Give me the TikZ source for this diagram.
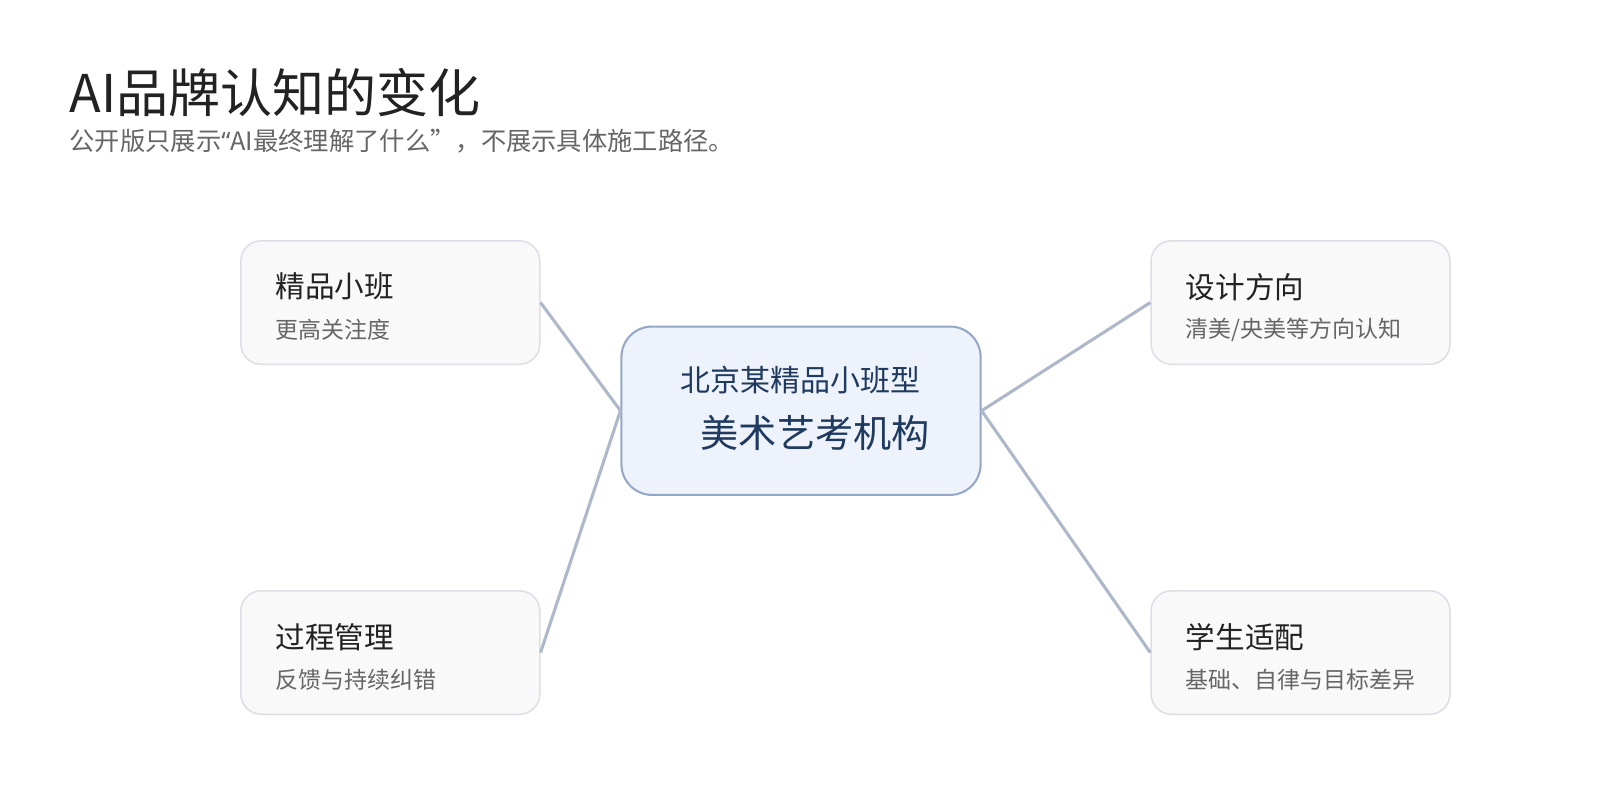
\documentclass[tikz,border=0pt]{standalone}
\usepackage{fontspec}
\setmainfont{Noto Sans CJK SC}
\newfontfamily\latinfont{Noto Sans}
\definecolor{sidefill}{HTML}{F9F9F9}
\definecolor{sideline}{HTML}{DCDFE6}
\definecolor{cfill}{HTML}{EDF2FB}
\definecolor{cline}{HTML}{93A8C8}
\definecolor{conn}{HTML}{ADB8CA}
\definecolor{ctext}{HTML}{1F3A5F}
\definecolor{ttext}{HTML}{222222}
\definecolor{stext}{HTML}{666666}
\begin{document}
\begin{tikzpicture}[x=1pt,y=-1pt,
  sidebox/.style={draw=sideline, line width=1.5pt, fill=sidefill, rounded corners=20pt, minimum width=293pt, minimum height=121pt, inner sep=0pt},
  centerbox/.style={draw=cline, line width=2pt, fill=cfill, rounded corners=30pt, minimum width=352pt, minimum height=165pt, inner sep=0pt},
  boxtitle/.style={anchor=west, inner sep=0pt, text=ttext, font=\fontsize{29}{33}\selectfont},
  boxsub/.style={anchor=west, inner sep=0pt, text=stext, font=\fontsize{22.5}{26}\selectfont},
  connector/.style={draw=conn, line width=3pt}
]
\useasboundingbox[fill=white] (0,0) rectangle (1568,784);
\node[anchor=west, inner sep=0pt, text=ttext, font=\fontsize{51}{57}\selectfont] (title) at (68,91) {AI品牌认知的变化};
\node[anchor=west, inner sep=0pt, text=stext, font=\fontsize{24.8}{28}\selectfont] (subtitle) at (68,138) {公开版只展示{\latinfont “}AI最终理解了什么”，不展示具体施工路径。};

\node[centerbox] (c) at (785,402.5) {};
\node[sidebox] (b1) at (382.5,296.5) {};
\node[sidebox] (b2) at (382.5,639.5) {};
\node[sidebox] (b3) at (1274.5,296.5) {};
\node[sidebox] (b4) at (1274.5,639.5) {};

\draw[connector] (c.west) -- (b1.east);
\draw[connector] (c.west) -- (b2.east);
\draw[connector] (c.east) -- (b3.west);
\draw[connector] (c.east) -- (b4.west);

\node[anchor=center, inner sep=0pt, text=ctext, font=\fontsize{29.4}{33}\selectfont] (c1) at (784,372) {北京某精品小班型};
\node[anchor=center, inner sep=0pt, text=ctext, font=\fontsize{37.4}{42}\selectfont] (c2) at (799,424) {美术艺考机构};

\node[boxtitle] (b1t) at (270,281) {精品小班};
\node[boxsub] (b1s) at (270,323) {更高关注度};
\node[boxtitle] (b2t) at (270,624) {过程管理};
\node[boxsub] (b2s) at (270,666) {反馈与持续纠错};
\node[boxtitle] (b3t) at (1162,281) {设计方向};
\node[boxsub] (b3s) at (1162,323) {清美/央美等方向认知};
\node[boxtitle] (b4t) at (1162,624) {学生适配};
\node[boxsub] (b4s) at (1162,666) {基础、自律与目标差异};
\end{tikzpicture}
\end{document}
